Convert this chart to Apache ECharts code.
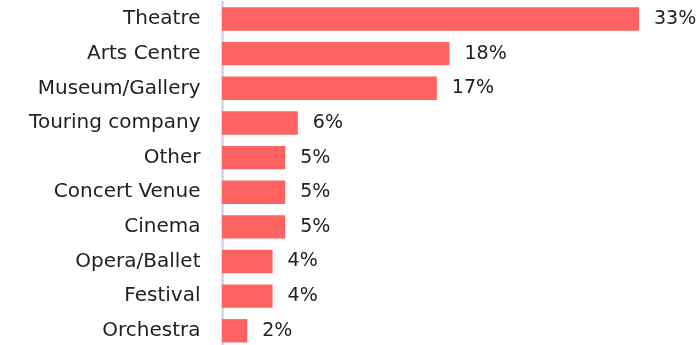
<!DOCTYPE html>
<html><head><meta charset="utf-8">
<script src="https://cdn.jsdelivr.net/npm/echarts@6/dist/echarts.min.js"></script>
<style>html,body{margin:0;padding:0;background:#fff}#c{width:700px;height:345px}</style>
</head><body><div id="c"></div>
<script>
const categories = ["Theatre","Arts Centre","Museum/Gallery","Touring company","Other","Concert Venue","Cinema","Opera/Ballet","Festival","Orchestra"];
const values = [33,18,17,6,5,5,5,4,4,2];
const chart = echarts.init(document.getElementById('c'), null, {renderer:'canvas'});
chart.setOption({
  animation:false,
  grid:{left:222, width:478, top:1.7, height:346.4, outerBoundsMode:'none', containLabel:false},
  xAxis:{type:'value', min:0, max:33/417*478, show:false},
  yAxis:{type:'category', inverse:true, data:categories, offset:1.5,
    axisLine:{show:true, lineStyle:{color:'#d6cef4', width:2.5}},
    axisTick:{show:false},
    axisLabel:{margin:20, fontFamily:'DejaVu Sans', fontSize:20, color:'#222'}},
  series:[{type:'bar', data:values, barWidth:23.4,
    itemStyle:{color:'#ff6361'},
    label:{show:true, position:'right', distance:15, formatter:'{c}%', fontFamily:'DejaVu Sans', fontSize:19, color:'#222'}}]
});
</script></body></html>
